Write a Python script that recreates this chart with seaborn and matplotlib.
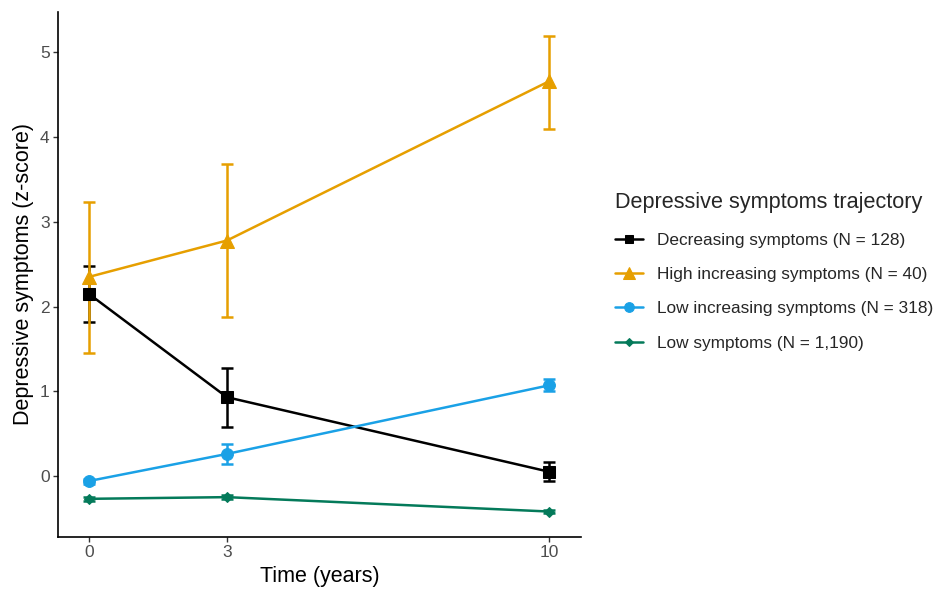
import numpy as np
import pandas as pd
import matplotlib
matplotlib.use("Agg")
import matplotlib.pyplot as plt
import seaborn as sns

years = [0, 3, 10]
groups = ["Decreasing symptoms (N = 128)", "High increasing symptoms (N = 40)",
          "Low increasing symptoms (N = 318)", "Low symptoms (N = 1,190)"]
decreasing = [2.15, 0.93, 0.05]
decreasing_lo = [1.82, 0.58, -0.06]
decreasing_hi = [2.48, 1.28, 0.16]
high_inc = [2.35, 2.78, 4.66]
high_inc_lo = [1.45, 1.88, 4.10]
high_inc_hi = [3.24, 3.68, 5.20]
low_inc = [-0.06, 0.26, 1.07]
low_inc_lo = [-0.09, 0.14, 1.00]
low_inc_hi = [-0.03, 0.38, 1.15]
low = [-0.27, -0.25, -0.42]
low_lo = [-0.29, -0.27, -0.44]
low_hi = [-0.25, -0.23, -0.40]

colors = ["#000000", "#E69F00", "#1AA1E6", "#047A5A"]
markers = ["s", "^", "o", "D"]
msizes = [8, 10, 8.5, 5.5]
leg_msizes = [6, 8, 7, 4.5]

means = [decreasing, high_inc, low_inc, low]
los = [decreasing_lo, high_inc_lo, low_inc_lo, low_lo]
his = [decreasing_hi, high_inc_hi, low_inc_hi, low_hi]

rows = []
for g, m, lo, hi in zip(groups, means, los, his):
    for t, v, a, b in zip(years, m, lo, hi):
        rows.append({"Time": t, "z": v, "lo": a, "hi": b, "group": g})
df = pd.DataFrame(rows)

sns.set_theme(style="ticks")
plt.rcParams['font.family'] = ['Liberation Sans', 'DejaVu Sans']

fig = plt.figure(figsize=(9.36, 5.92), dpi=100)
ax = fig.add_axes([0.062, 0.093, 0.559, 0.887])

for g, c, mk, ms in zip(groups, colors, markers, msizes):
    d = df[df.group == g]
    ax.errorbar(d.Time, d.z, yerr=[d.z - d.lo, d.hi - d.z], fmt="none",
                ecolor=c, elinewidth=1.8, capsize=4.5, capthick=1.8, zorder=2)
    sns.lineplot(x=d.Time, y=d.z, color=c, marker=mk, markersize=ms,
                 markeredgecolor=c, linewidth=1.8, label=g, ax=ax, zorder=3)

ax.set_xlim(-0.67, 10.7)
ax.set_ylim(-0.72, 5.48)
ax.set_xticks(years)
ax.set_yticks([0, 1, 2, 3, 4, 5])
ax.set_xlabel("Time (years)", fontsize=15.5, color="black", labelpad=4)
ax.set_ylabel("Depressive symptoms (z-score)", fontsize=15.5, color="black", labelpad=4)
ax.tick_params(labelsize=12.5, labelcolor="#4D4D4D", color="#333333", width=1,
               length=3.5, pad=2.5)
for s in ["top", "right"]:
    ax.spines[s].set_visible(False)
for s in ["left", "bottom"]:
    ax.spines[s].set_linewidth(1.2)
    ax.spines[s].set_color("black")

leg = ax.legend(title="Depressive symptoms trajectory", loc="upper left",
                bbox_to_anchor=(1.035, 0.686), frameon=False, fontsize=12.4,
                title_fontsize=15.6, handlelength=1.6, handletextpad=0.85,
                labelspacing=1.12)
leg._legend_box.align = "left"
leg._legend_box.sep = 14
for h, s in zip(leg.legend_handles, leg_msizes):
    h.set_markersize(s)

fig.savefig("out.png", dpi=100)
